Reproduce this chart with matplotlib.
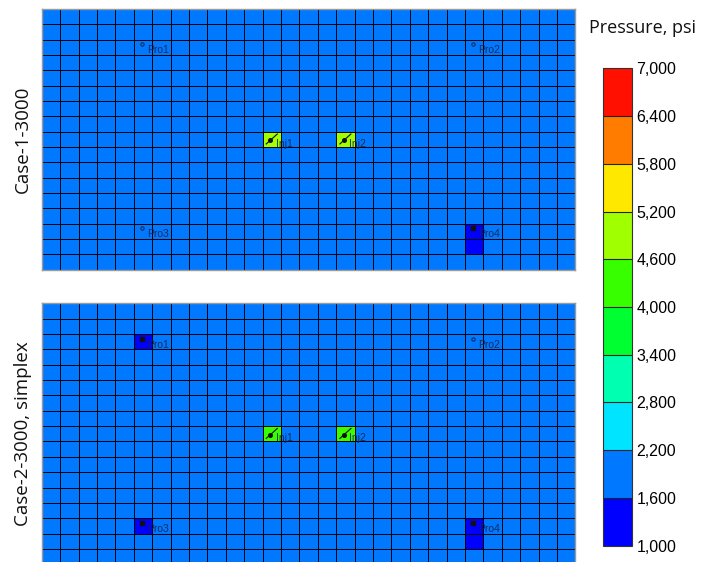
import numpy as np
import matplotlib
matplotlib.use("Agg")
import matplotlib.pyplot as plt
from matplotlib.colors import ListedColormap, BoundaryNorm
from matplotlib.ticker import FuncFormatter

# Grid size (columns x rows)
n_cols = 29
n_rows = 17

# Pressure classes and colours for the legend
levels = [1000, 1600, 2200, 2800, 3400, 4000, 4600, 5200, 5800, 6400, 7000]
level_colors = ["#0000FF", "#0078FF", "#00E4FF", "#00FFB0", "#00FF30",
                "#38FF00", "#A0FF00", "#FFE800", "#FF7C00", "#FF1000"]

# Case names
case_names = ["Case-1-3000", "Case-2-3000, simplex"]

# Background reservoir pressure for each case (psi)
background_pressure = [1900, 1900]

# Wells: name, column, row, type
well_names = ["Pro1", "Pro2", "Pro3", "Pro4", "Inj1", "Inj2"]
well_cols = [5, 23, 5, 23, 12, 16]
well_rows = [2, 2, 14, 14, 8, 8]
well_types = ["prod", "prod", "prod", "prod", "inj", "inj"]

# Cells with a distinct pressure: (column, row, pressure)
case1_cells = [(23, 14, 1300), (23, 15, 1300), (12, 8, 4700), (16, 8, 4700)]
case2_cells = [(5, 2, 1300), (5, 14, 1300), (23, 14, 1300), (23, 15, 1300),
               (12, 8, 4500), (16, 8, 4500)]
case_cells = [case1_cells, case2_cells]

cmap = ListedColormap(level_colors)
norm = BoundaryNorm(levels, cmap.N)

fig = plt.figure(figsize=(7.03, 5.62), dpi=100)
panel_rects = [[0.0593, 0.5201, 0.7593, 0.4639],
               [0.0593, -0.0041, 0.7593, 0.4644]]

label_color = "#15244a"
mesh = None
for k in range(2):
    ax = fig.add_axes(panel_rects[k])
    field = np.full((n_rows, n_cols), float(background_pressure[k]))
    for c, r, p in case_cells[k]:
        field[r, c] = p
    mesh = ax.pcolormesh(np.arange(n_cols + 1), np.arange(n_rows + 1), field,
                         cmap=cmap, norm=norm, edgecolors="none")
    # cell boundaries
    ax.vlines(np.arange(1, n_cols), 0, n_rows, colors="#000000", lw=0.7)
    ax.hlines(np.arange(1, n_rows), 0, n_cols, colors="#000000", lw=0.7)
    ax.set_xlim(0, n_cols)
    ax.set_ylim(n_rows, 0)
    ax.set_xticks([])
    ax.set_yticks([])
    for s in ax.spines.values():
        s.set_color("#9a9a9a")
        s.set_linewidth(1.0)
    ax.set_ylabel(case_names[k], family="Open Sans", fontsize=13.5,
                  color="#111111", labelpad=7)

    dark_cells = {(c, r) for c, r, p in case_cells[k] if p < 1600}
    for name, c, r, t in zip(well_names, well_cols, well_rows, well_types):
        cx, cy = c + 0.5, r + 0.5
        if t == "inj":
            ax.plot([cx - 0.3, cx + 0.3], [cy + 0.3, cy - 0.35], color="#111111",
                    lw=0.8)
            ax.plot(cx - 0.08, cy + 0.05, "o", ms=2.6, color="#111111")
            ax.text(c + 0.72, cy + 0.3, name, fontsize=7.5, family="Liberation Sans",
                    color=label_color, alpha=0.9, va="center", ha="left")
        else:
            if (c, r) in dark_cells:
                ax.plot(cx - 0.05, cy - 0.2, "s", ms=2.2, color="#111111")
            else:
                ax.plot(cx - 0.05, cy - 0.2, "o", ms=2.4, mfc="none",
                        mec=label_color, mew=0.7)
            ax.text(cx + 0.22, cy + 0.2, name, fontsize=7.5, family="Liberation Sans",
                    color=label_color, alpha=0.9, va="center", ha="left")

cax = fig.add_axes([0.8578, 0.029, 0.0417, 0.8495])
cb = fig.colorbar(mesh, cax=cax, boundaries=levels, ticks=levels, drawedges=True)
cb.outline.set_edgecolor("#333333")
cb.outline.set_linewidth(0.8)
cb.dividers.set_color("#222222")
cb.dividers.set_linewidth(0.8)
cax.yaxis.set_major_formatter(FuncFormatter(lambda v, p: f"{int(v):,}"))
cax.tick_params(length=0, pad=3, labelsize=11.5)
for lab in cax.get_yticklabels():
    lab.set_family("Liberation Sans")
fig.text(0.9145, 0.95, "Pressure, psi", family="Open Sans", fontsize=13,
         ha="center", va="center", color="#111111")

fig.savefig("out.png", dpi=100)
